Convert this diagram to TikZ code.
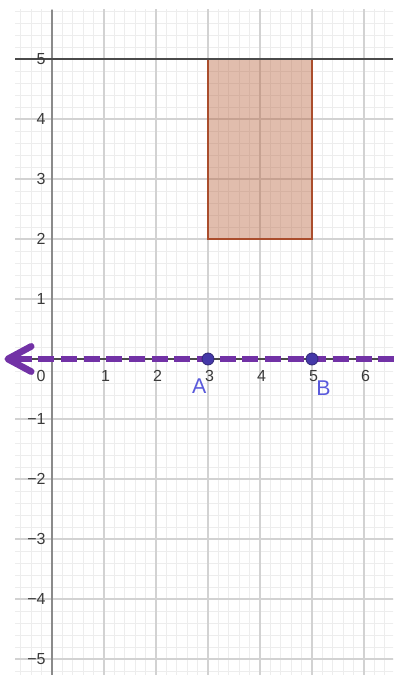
\documentclass[tikz,border=0pt]{standalone}
\usepackage{fontspec}
\setmainfont{Liberation Sans}
\definecolor{minorgrid}{HTML}{EDEDED}
\definecolor{majorgrid}{HTML}{D2D2D2}
\definecolor{axisgray}{HTML}{8A8A8A}
\definecolor{darkline}{HTML}{4A4A4A}
\definecolor{ticktext}{HTML}{3A3A3A}
\definecolor{linepurple}{HTML}{7232A6}
\definecolor{pointblue}{HTML}{4438A8}
\definecolor{labelblue}{HTML}{5A5ADC}
\definecolor{rectfill}{RGB}{180,90,50}
\definecolor{rectedge}{HTML}{AA4D2C}
\tikzset{
  minor/.style={draw=minorgrid, line width=0.5pt},
  major/.style={draw=majorgrid, line width=0.8pt},
  axisline/.style={draw=axisgray, line width=1.2pt},
  hline/.style={draw=darkline, line width=1.5pt},
  ticklbl/.style={text=ticktext, font=\fontsize{12}{14}\selectfont, inner sep=0pt},
  ptlbl/.style={text=labelblue, font=\fontsize{16}{18}\selectfont, inner sep=0pt},
  dashline/.style={draw=linepurple, line width=5pt, dash pattern=on 12pt off 5pt},
  chevron/.style={draw=linepurple, line width=5pt, line cap=round, line join=round},
  ptdot/.style={circle, fill=pointblue, draw=pointblue!70!black, line width=0.6pt, minimum size=9pt, inner sep=0pt},
  region/.style={fill=rectfill, fill opacity=0.4, draw=rectedge, line width=1.5pt}
}
\begin{document}
\begin{tikzpicture}[x=39pt,y=45pt]
\useasboundingbox (-1,-5.2667) rectangle (6.5577,5.9833);
\begin{scope}
  \clip (-0.7115,-5.2667) rectangle (6.5577,5.8167);
  \foreach \i in {-4,...,33} \draw[minor] (\i/5,-6) -- (\i/5,6);
  \foreach \j in {-27,...,30} \draw[minor] (-1,\j/5) -- (7,\j/5);
  \foreach \i in {-1,...,6} \draw[major] (\i,-6) -- (\i,6);
  \foreach \j in {-5,...,5} \draw[major] (-1,\j) -- (7,\j);
\end{scope}
% rectangle
\draw[region] (3,2) rectangle (5,5);
% axes
\coordinate (ytop) at (0,5.8167);
\coordinate (ybot) at (0,-5.2667);
\coordinate (xl) at (-0.7115,0);
\coordinate (xr) at (6.5577,0);
\draw[axisline] (ytop) -- (ybot);
\draw[draw=darkline, line width=1pt] (xl) -- (xr);
% line y = 5
\coordinate (hl) at (-0.7115,5);
\coordinate (hr) at (6.5577,5);
\draw[hline] (hl) -- (hr);
% tick labels
\foreach \j/\t in {5/5,4/4,3/3,2/2,1/1,-1/−1,-2/−2,-3/−3,-4/−4,-5/−5}
  \node[ticklbl, anchor=east] (ylab\j) at (-0.12,\j) {\t};
\node[ticklbl] (xlab0) at (-0.21,-0.29) {0};
\foreach \i in {1,...,6}
  \node[ticklbl] (xlab\i) at (\i+0.03,-0.29) {\i};
% dashed line with open arrow
\coordinate (tip) at (-0.85,0);
\coordinate (armup) at (-0.40,0.21);
\coordinate (armdn) at (-0.40,-0.21);
\coordinate (lend) at (6.6,0);
\draw[dashline] (-0.70,0) -- (lend);
\draw[chevron] (armup) -- (tip) -- (armdn);
\draw[draw=linepurple, line width=5pt] (tip) -- (-0.62,0);
% points
\node[ptdot] (A) at (3,0) {};
\node[ptdot] (B) at (5,0) {};
\node[ptlbl] (Alab) at (2.83,-0.46) {A};
\node[ptlbl] (Blab) at (5.22,-0.49) {B};
\end{tikzpicture}
\end{document}
